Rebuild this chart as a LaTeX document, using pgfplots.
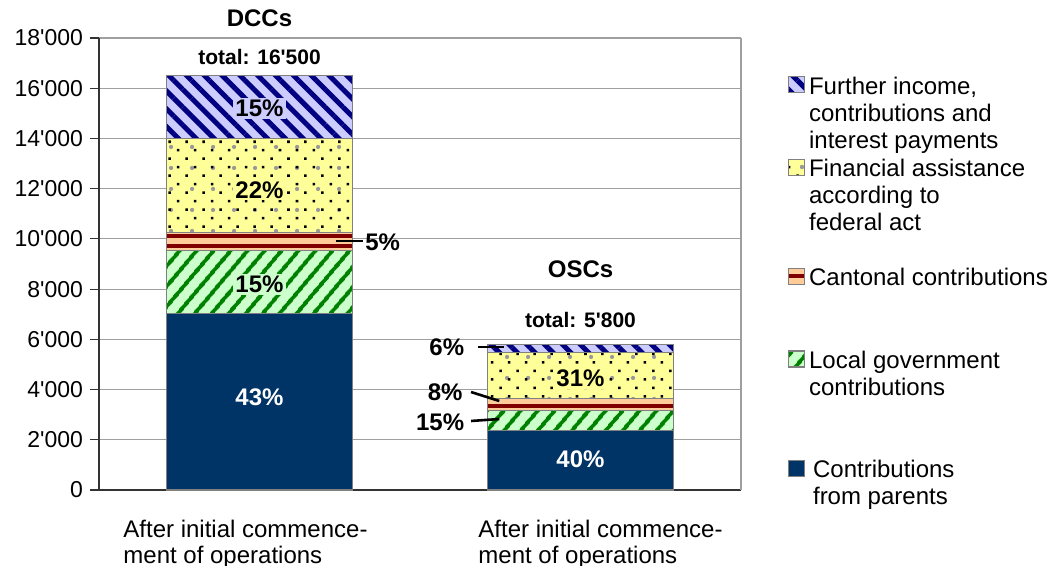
\documentclass[border=0pt]{standalone}
\usepackage{pgfplots}
\pgfplotsset{compat=1.18}
\usetikzlibrary{patterns.meta}
\usepackage{fontspec}
\setmainfont{Liberation Sans}

\definecolor{parents}{HTML}{003366}
\definecolor{localbg}{HTML}{CCFFCC}
\definecolor{localfg}{HTML}{008000}
\definecolor{cantred}{HTML}{800000}
\definecolor{cantbg}{HTML}{FFCC99}
\definecolor{finbg}{HTML}{FFFF99}
\definecolor{furtherbg}{HTML}{CCCCFF}
\definecolor{furtherfg}{HTML}{000080}
\definecolor{edge}{HTML}{808080}

\pgfplotsset{sqleg/.style={legend image code/.code={%
  \draw[##1,draw=edge,line width=0.6pt] (0pt,-10pt) rectangle (8pt,-2pt);}}}

\newcommand{\pct}{\bfseries\fontsize{12}{13}\selectfont}

\begin{document}
\begin{tikzpicture}
\useasboundingbox (-49.5pt,-38pt) rectangle (476.5pt,245pt);
\begin{axis}[
  at={(0,0)}, anchor=south west,
  scale only axis, width=321pt, height=226pt,
  ybar stacked, bar width=0.578,
  xmin=-0.5, xmax=1.5, ymin=0, ymax=18000,
  enlargelimits=false, clip=false,
  axis x line*=bottom, axis y line*=left,
  axis line style={-, draw=black!80, line width=0.7pt},
  ytick={0,2000,...,18000},
  scaled y ticks=false,
  /pgf/number format/1000 sep={\textquotesingle},
  /pgf/number format/assume math mode=true,
  ymajorgrids, major grid style={draw=gray!75, line width=0.6pt},
  tick align=outside, major tick length=4.5pt,
  ytick style={draw=black!80, line width=0.6pt},
  xtick style={draw=none},
  yticklabel style={font=\fontsize{11.5}{13}\selectfont},
  xtick={0,1},
  xticklabels={{After initial commence-\hspace*{14pt}\\ment of operations},
               {\hspace*{20pt}After initial commence-\\\hspace*{20pt}ment of operations}},
  xticklabel style={align=left, font=\fontsize{12}{13}\selectfont, yshift=-7pt},
  extra x ticks={1.5}, extra x tick labels={},
  extra x tick style={grid=major, major grid style={draw=gray!75, line width=0.6pt}, tick style={draw=none}},
  legend cell align=left,
  legend style={draw=none, fill=none, at={(1.073,0.923)}, anchor=north west,
    inner sep=0pt, outer sep=0pt, row sep=0pt,
    font=\fontsize{12}{13.5}\selectfont,
    cells={anchor=north west, align=left, inner sep=1.5pt},
    /tikz/every even column/.append style={column sep=1pt}},
  reverse legend,
]
% contributions from parents
\addplot[sqleg, fill=parents, draw=edge, line width=0.6pt]
  coordinates {(0,7040) (1,2360)};
% local government contributions
\addplot[sqleg, fill=localbg, draw=edge, line width=0.6pt,
  postaction={pattern={Lines[angle=50,distance=6.5pt,line width=2pt]}, pattern color=localfg}]
  coordinates {(0,2490) (1,800)};
% cantonal contributions
\addplot[sqleg, fill=cantbg, draw=edge, line width=0.6pt,
  postaction={pattern={Lines[angle=0,distance=5pt,line width=2.4pt]}, pattern color=cantred}]
  coordinates {(0,730) (1,490)};
% financial assistance
\addplot[sqleg, fill=finbg, draw=edge, line width=0.6pt,
  postaction={pattern={Dots[distance=10.5pt,radius=1.1pt,xshift=2pt]}, pattern color=gray!80},
  postaction={pattern={Dots[distance=6pt,angle=45,radius=0.9pt]}, pattern color=black}]
  coordinates {(0,3740) (1,1815)};
% further income
\addplot[sqleg, fill=furtherbg, draw=edge, line width=0.6pt,
  postaction={pattern={Lines[angle=-45,distance=6.3pt,line width=2.5pt]}, pattern color=furtherfg}]
  coordinates {(0,2500) (1,335)};

\legend{{\hspace*{2pt}Contributions\\\hspace*{2pt}from parents},
        {Local government\\contributions\\\mbox{}\\\mbox{}},
        {Cantonal contributions\\\mbox{}\\\mbox{}},
        {Financial assistance\\according to\\federal act\\\mbox{}},
        {Further income,\\contributions and\\interest payments}}

% anchor points for the labels (drawn after the axis, above the bars)
\coordinate (tA) at (axis cs:0,18800);
\coordinate (sA) at (axis cs:0,17240);
\coordinate (tB) at (axis cs:1,8800);
\coordinate (sB) at (axis cs:1,6770);
\coordinate (a1) at (axis cs:0,15200);
\coordinate (a2) at (axis cs:0,11950);
\coordinate (a3) at (axis cs:0,8200);
\coordinate (a4) at (axis cs:0,3700);
\coordinate (a5s) at (axis cs:0.2375,9916);
\coordinate (a5e) at (axis cs:0.322,9916);
\coordinate (a5) at (axis cs:0.322,9880);
\coordinate (b1) at (axis cs:1,4460);
\coordinate (b2) at (axis cs:1,1230);
\coordinate (b6s) at (axis cs:0.681,5695);
\coordinate (b6e) at (axis cs:0.7625,5695);
\coordinate (b6) at (axis cs:0.645,5670);
\coordinate (b8s) at (axis cs:0.659,3902);
\coordinate (b8e) at (axis cs:0.747,3544);
\coordinate (b8) at (axis cs:0.64,3900);
\coordinate (b15s) at (axis cs:0.659,2748);
\coordinate (b15e) at (axis cs:0.747,2827);
\coordinate (b15) at (axis cs:0.645,2708);
\end{axis}

\node[font=\bfseries\fontsize{12}{13}\selectfont] at (tA) {DCCs};
\node[font=\bfseries\fontsize{10.5}{12}\selectfont] at (sA) {total: 16\textquotesingle500};
\node[font=\bfseries\fontsize{12}{13}\selectfont] at (tB) {OSCs};
\node[font=\bfseries\fontsize{10.5}{12}\selectfont] at (sB) {total: 5\textquotesingle800};

\node[font=\pct, fill=furtherbg, inner sep=1pt] at (a1) {15\%};
\node[font=\pct, fill=finbg, inner sep=1pt] at (a2) {22\%};
\node[font=\pct, fill=localbg, inner sep=1pt] at (a3) {15\%};
\node[font=\pct, text=white] at (a4) {43\%};
\draw[line width=1.3pt] (a5s) -- (a5e);
\node[font=\pct, anchor=west, inner sep=1pt] at (a5) {5\%};

\node[font=\pct, fill=finbg, inner sep=1pt] at (b1) {31\%};
\node[font=\pct, text=white] at (b2) {40\%};
\draw[line width=1.3pt] (b6s) -- (b6e);
\node[font=\pct, anchor=east, inner sep=1pt] at (b6) {6\%};
\draw[line width=1.3pt] (b8s) -- (b8e);
\node[font=\pct, anchor=east, inner sep=1pt] at (b8) {8\%};
\draw[line width=1.3pt] (b15s) -- (b15e);
\node[font=\pct, anchor=east, inner sep=1pt] at (b15) {15\%};
\end{tikzpicture}
\end{document}
